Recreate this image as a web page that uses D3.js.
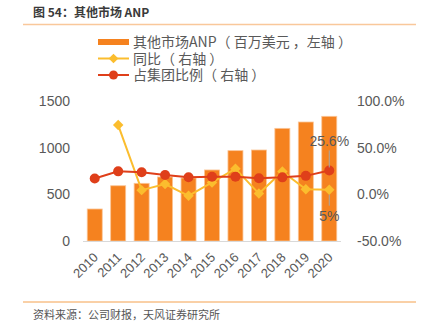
<!DOCTYPE html>
<html lang="zh">
<head>
<meta charset="UTF-8">
<script src="https://d3js.org/d3.v7.min.js"></script>
<style>
  body { margin: 0; background: #fff; }
  text { font-family: "Liberation Sans", Arial, "Noto Sans CJK SC", sans-serif; }
  .cn { font-family: "Noto Sans CJK SC", "Liberation Sans", sans-serif; }
</style>
</head>
<body>
<script>
  const years = ["2010","2011","2012","2013","2014","2015","2016","2017","2018","2019","2020"];
  const anp = [343, 592, 618, 686, 675, 761, 968, 975, 1207, 1275, 1336];
  const yoy = [null, 74.2, 4.5, 11.0, -1.6, 12.7, 27.5, 0.8, 24.5, 5.4, 5.0];
  const share = [17.0, 24.6, 23.6, 20.7, 18.3, 18.9, 18.9, 17.2, 18.2, 19.8, 25.6];
  const leftTicks = [0, 500, 1000, 1500];
  const rightTicks = [-50, 0, 50, 100];

  const W = 421, H = 329;
  const orange = "#f5821f", yellow = "#fbbd2e", red = "#df3f1a";

  const svg = d3.select("body").append("svg")
    .attr("width", W).attr("height", H);

  // title + rules
  svg.append("text").attr("class", "cn")
    .attr("x", 33).attr("y", 17)
    .attr("font-size", 12).attr("font-weight", "bold").attr("fill", "#3a3a3a")
    .text("图 54：其他市场 ANP");
  svg.append("line").attr("x1", 23).attr("x2", 416).attr("y1", 24.5).attr("y2", 24.5)
    .attr("stroke", "#f9c89b").attr("stroke-width", 1.5);
  svg.append("line").attr("x1", 23).attr("x2", 416).attr("y1", 302).attr("y2", 302)
    .attr("stroke", "#f4a14f").attr("stroke-width", 1);
  svg.append("text").attr("class", "cn")
    .attr("x", 33).attr("y", 319)
    .attr("font-size", 11).attr("fill", "#555")
    .text("资料来源：公司财报，天风证券研究所");

  // scales
  const x = d3.scaleBand().domain(years).range([83, 341]).paddingInner(0.36).paddingOuter(0.18);
  const yL = d3.scaleLinear().domain([0, 1500]).range([241, 101]);
  const yR = d3.scaleLinear().domain([-50, 100]).range([241, 101]);
  const cx = d => x(d) + x.bandwidth() / 2;

  // axes (labels only)
  svg.append("g").selectAll("text").data(leftTicks).join("text")
    .attr("x", 70).attr("y", d => yL(d)).attr("dy", "0.36em")
    .attr("text-anchor", "end").attr("font-size", 14).attr("fill", "#595959")
    .text(d => d);
  svg.append("g").selectAll("text").data(rightTicks).join("text")
    .attr("x", 357).attr("y", d => yR(d)).attr("dy", "0.36em")
    .attr("font-size", 14).attr("fill", "#595959")
    .text(d => d.toFixed(1) + "%");

  // bars
  svg.append("g").selectAll("rect").data(anp).join("rect")
    .attr("x", (d, i) => x(years[i]))
    .attr("y", d => yL(d))
    .attr("width", x.bandwidth())
    .attr("height", d => yL(0) - yL(d))
    .attr("fill", orange)
    .attr("stroke", "#fbc597").attr("stroke-width", 0.8);

  svg.append("line").attr("x1", 83).attr("x2", 341)
    .attr("y1", yL(0) + 0.5).attr("y2", yL(0) + 0.5)
    .attr("stroke", "#d9d9d9").attr("stroke-width", 1.2);

  svg.append("g").selectAll("text").data(years).join("text")
    .attr("transform", d => `translate(${cx(d) + 1},${yL(0) + 14}) rotate(-45)`)
    .attr("text-anchor", "end").attr("dy", "0.35em")
    .attr("font-size", 13).attr("fill", "#595959")
    .text(d => d);

  // yoy line
  const yoyPts = yoy.map((v, i) => ({ y: years[i], v })).filter(d => d.v !== null);
  const lineR = d3.line().x(d => cx(d.y)).y(d => yR(d.v));
  svg.append("path").datum(yoyPts).attr("d", lineR)
    .attr("fill", "none").attr("stroke", yellow).attr("stroke-width", 2);
  svg.append("g").selectAll("path").data(yoyPts).join("path")
    .attr("transform", d => `translate(${cx(d.y)},${yR(d.v)})`)
    .attr("d", d3.symbol(d3.symbolDiamond2, 70)())
    .attr("fill", yellow);

  // share line
  const sharePts = share.map((v, i) => ({ y: years[i], v }));
  svg.append("path").datum(sharePts).attr("d", lineR)
    .attr("fill", "none").attr("stroke", red).attr("stroke-width", 2);
  svg.append("g").selectAll("circle").data(sharePts).join("circle")
    .attr("cx", d => cx(d.y)).attr("cy", d => yR(d.v)).attr("r", 5)
    .attr("fill", red);

  // data labels for 2020
  const last = years[years.length - 1];
  const sLast = share[share.length - 1], yLast = yoy[yoy.length - 1];
  svg.append("line").attr("x1", cx(last)).attr("x2", cx(last))
    .attr("y1", yR(sLast) - 3).attr("y2", yR(sLast) - 20)
    .attr("stroke", "#a6a6a6").attr("stroke-width", 1);
  svg.append("text").attr("x", cx(last)).attr("y", yR(sLast) - 24)
    .attr("text-anchor", "middle").attr("font-size", 14).attr("fill", "#595959")
    .text(sLast.toFixed(1) + "%");
  svg.append("line").attr("x1", cx(last)).attr("x2", cx(last))
    .attr("y1", yR(yLast) + 5).attr("y2", yR(yLast) + 16)
    .attr("stroke", "#a6a6a6").attr("stroke-width", 1);
  svg.append("text").attr("x", cx(last)).attr("y", yR(yLast) + 31)
    .attr("text-anchor", "middle").attr("font-size", 14).attr("fill", "#595959")
    .text(yLast.toFixed(0) + "%");

  // legend
  const legend = [
    { name: "其他市场ANP（ 百万美元 ，左轴 ）", type: "bar", c: orange },
    { name: "同比（ 右轴 ）", type: "diamond", c: yellow },
    { name: "占集团比例（ 右轴 ）", type: "circle", c: red }
  ];
  const lg = svg.append("g").selectAll("g").data(legend).join("g")
    .attr("transform", (d, i) => `translate(98,${42 + i * 16.5})`);
  lg.each(function(d) {
    const g = d3.select(this);
    if (d.type === "bar") {
      g.append("rect").attr("x", 0).attr("y", -3).attr("width", 31).attr("height", 6).attr("fill", d.c);
    } else {
      g.append("line").attr("x1", 0).attr("x2", 31).attr("stroke", d.c).attr("stroke-width", 2);
      if (d.type === "diamond") {
        g.append("path").attr("transform", "translate(15.5,0)")
          .attr("d", d3.symbol(d3.symbolDiamond2, 60)()).attr("fill", d.c);
      } else {
        g.append("circle").attr("cx", 15.5).attr("r", 4.5).attr("fill", d.c);
      }
    }
    g.append("text").attr("class", "cn").attr("x", 35).attr("dy", "0.36em")
      .attr("font-size", 14).attr("fill", "#595959").text(d.name);
  });
</script>
</body>
</html>
